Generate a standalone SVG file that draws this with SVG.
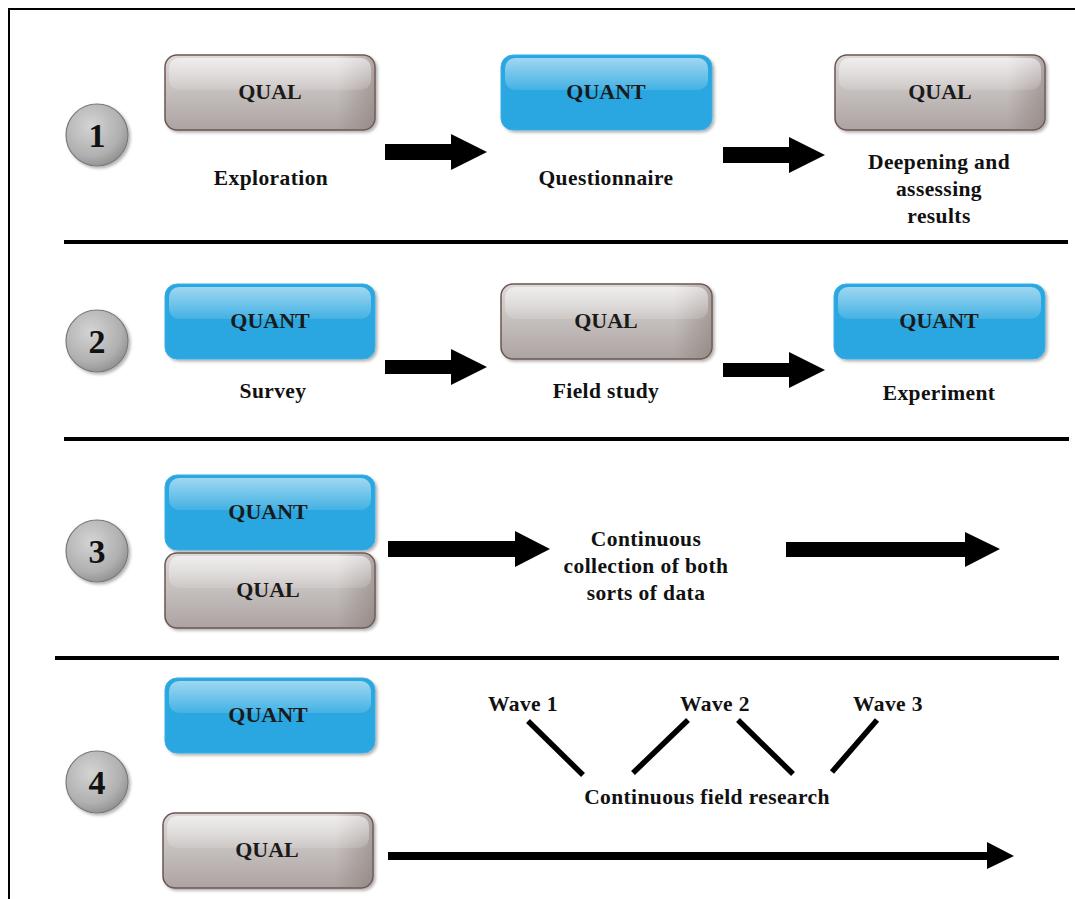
<svg xmlns="http://www.w3.org/2000/svg" width="1075" height="899" viewBox="0 0 1075 899">
<defs>
<linearGradient id="qualV" x1="0" y1="0" x2="0" y2="1">
<stop offset="0" stop-color="#dedad9"/>
<stop offset="0.5" stop-color="#c4bebc"/>
<stop offset="1" stop-color="#aca4a2"/>
</linearGradient>
<linearGradient id="qualH" x1="0" y1="0" x2="1" y2="0">
<stop offset="0" stop-color="#7a6a66" stop-opacity="0"/>
<stop offset="0.82" stop-color="#7a6a66" stop-opacity="0"/>
<stop offset="1" stop-color="#7a6a66" stop-opacity="0.45"/>
</linearGradient>
<linearGradient id="gloss" x1="0" y1="0" x2="0" y2="1">
<stop offset="0" stop-color="#ffffff" stop-opacity="0.55"/>
<stop offset="1" stop-color="#ffffff" stop-opacity="0.12"/>
</linearGradient>
<radialGradient id="ball" cx="0.4" cy="0.35" r="0.7">
<stop offset="0" stop-color="#d4d4d4"/>
<stop offset="0.7" stop-color="#b0b0b0"/>
<stop offset="1" stop-color="#8e8e8e"/>
</radialGradient>
<filter id="sh" x="-10%" y="-10%" width="125%" height="130%">
<feDropShadow dx="2" dy="2" stdDeviation="1.5" flood-color="#000" flood-opacity="0.3"/>
</filter>
</defs>
<style>
.qual{fill:url(#qualV);stroke:#6d5650;stroke-width:1.5;filter:url(#sh)}
.qualH{fill:url(#qualH)}
.quant{fill:#2aa7e0;stroke:#3aaee5;stroke-width:1;filter:url(#sh)}
.gl{fill:url(#gloss)}
.bt{font-family:"Liberation Serif","Times New Roman",serif;font-weight:bold;font-size:22px;fill:#1a1a1a;text-anchor:middle}
.lb{font-family:"Liberation Serif","Times New Roman",serif;font-weight:bold;font-size:21.5px;letter-spacing:0.4px;fill:#111;text-anchor:middle}
.num{font-family:"Liberation Serif","Times New Roman",serif;font-weight:bold;font-size:34px;fill:#111;text-anchor:middle}
.ball{fill:url(#ball);stroke:#7a7a7a;stroke-width:1.2;filter:url(#sh)}
.sep{stroke:#000;stroke-width:4}
.fr{stroke:#000;stroke-width:2;fill:none}
.arr{fill:#000}
.wl{stroke:#000;stroke-width:5.5}
</style>
<rect width="1075" height="899" fill="#fff"/>
<path class="fr" d="M9,899 V9 H1075"/>

<g id="separators">
<line class="sep" x1="64" y1="242" x2="1068" y2="242"/>
<line class="sep" x1="64" y1="439" x2="1069" y2="439"/>
<line class="sep" x1="55" y1="658" x2="1059" y2="658"/>
</g>

<g id="num1"><circle class="ball" cx="97" cy="135" r="31"/><text class="num" x="97" y="147">1</text></g>
<g id="num2"><circle class="ball" cx="97" cy="341" r="31"/><text class="num" x="97" y="353">2</text></g>
<g id="num3"><circle class="ball" cx="97" cy="551" r="31"/><text class="num" x="97" y="563">3</text></g>
<g id="num4"><circle class="ball" cx="97" cy="782" r="31"/><text class="num" x="97" y="794">4</text></g>

<g id="r1qual" transform="translate(165,55)">
<rect class="qual" width="210" height="75" rx="12"/><rect class="qualH" width="210" height="75" rx="12"/>
<rect class="gl" x="4" y="3" width="202" height="32" rx="10"/>
<text class="bt" x="105" y="44">QUAL</text></g>
<g id="r1quant" transform="translate(501,55)">
<rect class="quant" width="211" height="75" rx="12"/>
<rect class="gl" x="4" y="3" width="203" height="32" rx="10"/>
<text class="bt" x="105" y="44">QUANT</text></g>
<g id="r1qual2" transform="translate(835,55)">
<rect class="qual" width="210" height="75" rx="12"/><rect class="qualH" width="210" height="75" rx="12"/>
<rect class="gl" x="4" y="3" width="202" height="32" rx="10"/>
<text class="bt" x="105" y="44">QUAL</text></g>

<g id="r1labels">
<text class="lb" x="271" y="185">Exploration</text>
<text class="lb" x="606" y="185">Questionnaire</text>
<text class="lb" x="939" y="169">Deepening and</text>
<text class="lb" x="939" y="196">assessing</text>
<text class="lb" x="939" y="223">results</text>
</g>

<g id="r2quant" transform="translate(165,284)">
<rect class="quant" width="210" height="75" rx="12"/>
<rect class="gl" x="4" y="3" width="202" height="32" rx="10"/>
<text class="bt" x="105" y="44">QUANT</text></g>
<g id="r2qual" transform="translate(501,284)">
<rect class="qual" width="211" height="75" rx="12"/><rect class="qualH" width="211" height="75" rx="12"/>
<rect class="gl" x="4" y="3" width="203" height="32" rx="10"/>
<text class="bt" x="105" y="44">QUAL</text></g>
<g id="r2quant2" transform="translate(834,284)">
<rect class="quant" width="211" height="75" rx="12"/>
<rect class="gl" x="4" y="3" width="203" height="32" rx="10"/>
<text class="bt" x="105" y="44">QUANT</text></g>

<g id="r2labels">
<text class="lb" x="273" y="398">Survey</text>
<text class="lb" x="606" y="398">Field study</text>
<text class="lb" x="939" y="400">Experiment</text>
</g>

<g id="r3quant" transform="translate(165,475)">
<rect class="quant" width="210" height="75" rx="12"/>
<rect class="gl" x="4" y="3" width="202" height="32" rx="10"/>
<text class="bt" x="103" y="44">QUANT</text></g>
<g id="r3qual" transform="translate(165,553)">
<rect class="qual" width="210" height="75" rx="12"/><rect class="qualH" width="210" height="75" rx="12"/>
<rect class="gl" x="4" y="3" width="202" height="32" rx="10"/>
<text class="bt" x="103" y="44">QUAL</text></g>

<g id="r3label">
<text class="lb" x="646" y="546">Continuous</text>
<text class="lb" x="646" y="573">collection of both</text>
<text class="lb" x="646" y="600">sorts of data</text>
</g>

<g id="r4quant" transform="translate(165,678)">
<rect class="quant" width="210" height="75" rx="12"/>
<rect class="gl" x="4" y="3" width="202" height="32" rx="10"/>
<text class="bt" x="103" y="44">QUANT</text></g>
<g id="r4qual" transform="translate(163,813)">
<rect class="qual" width="210" height="75" rx="12"/><rect class="qualH" width="210" height="75" rx="12"/>
<rect class="gl" x="4" y="3" width="202" height="32" rx="10"/>
<text class="bt" x="104" y="44">QUAL</text></g>

<g id="r4labels">
<text class="lb" x="523" y="711">Wave 1</text>
<text class="lb" x="715" y="711">Wave 2</text>
<text class="lb" x="888" y="711">Wave 3</text>
<text class="lb" x="707" y="804">Continuous field research</text>
</g>

<g id="connectors">
<polygon class="arr" points="385,144 451,144 451,134 487,152 451,170 451,160 385,160"/>
<polygon class="arr" points="723,147 789,147 789,137 825,155 789,173 789,163 723,163"/>
<polygon class="arr" points="385,360 451,360 451,349 487,367 451,385 451,374 385,374"/>
<polygon class="arr" points="723,363 789,363 789,352 825,370 789,388 789,377 723,377"/>
<polygon class="arr" points="388,541 515,541 515,531 550,549 515,567 515,557 388,557"/>
<polygon class="arr" points="786,542 965,542 965,532 1000,549 965,567 965,557 786,557"/>
<polygon class="arr" points="388,852 987,852 987,842 1014,856 987,869 987,860 388,860"/>
<line class="wl" x1="528" y1="721" x2="583" y2="775"/>
<line class="wl" x1="633" y1="773" x2="688" y2="720"/>
<line class="wl" x1="738" y1="720" x2="793" y2="774"/>
<line class="wl" x1="832" y1="772" x2="877" y2="720"/>
</g>
</svg>
